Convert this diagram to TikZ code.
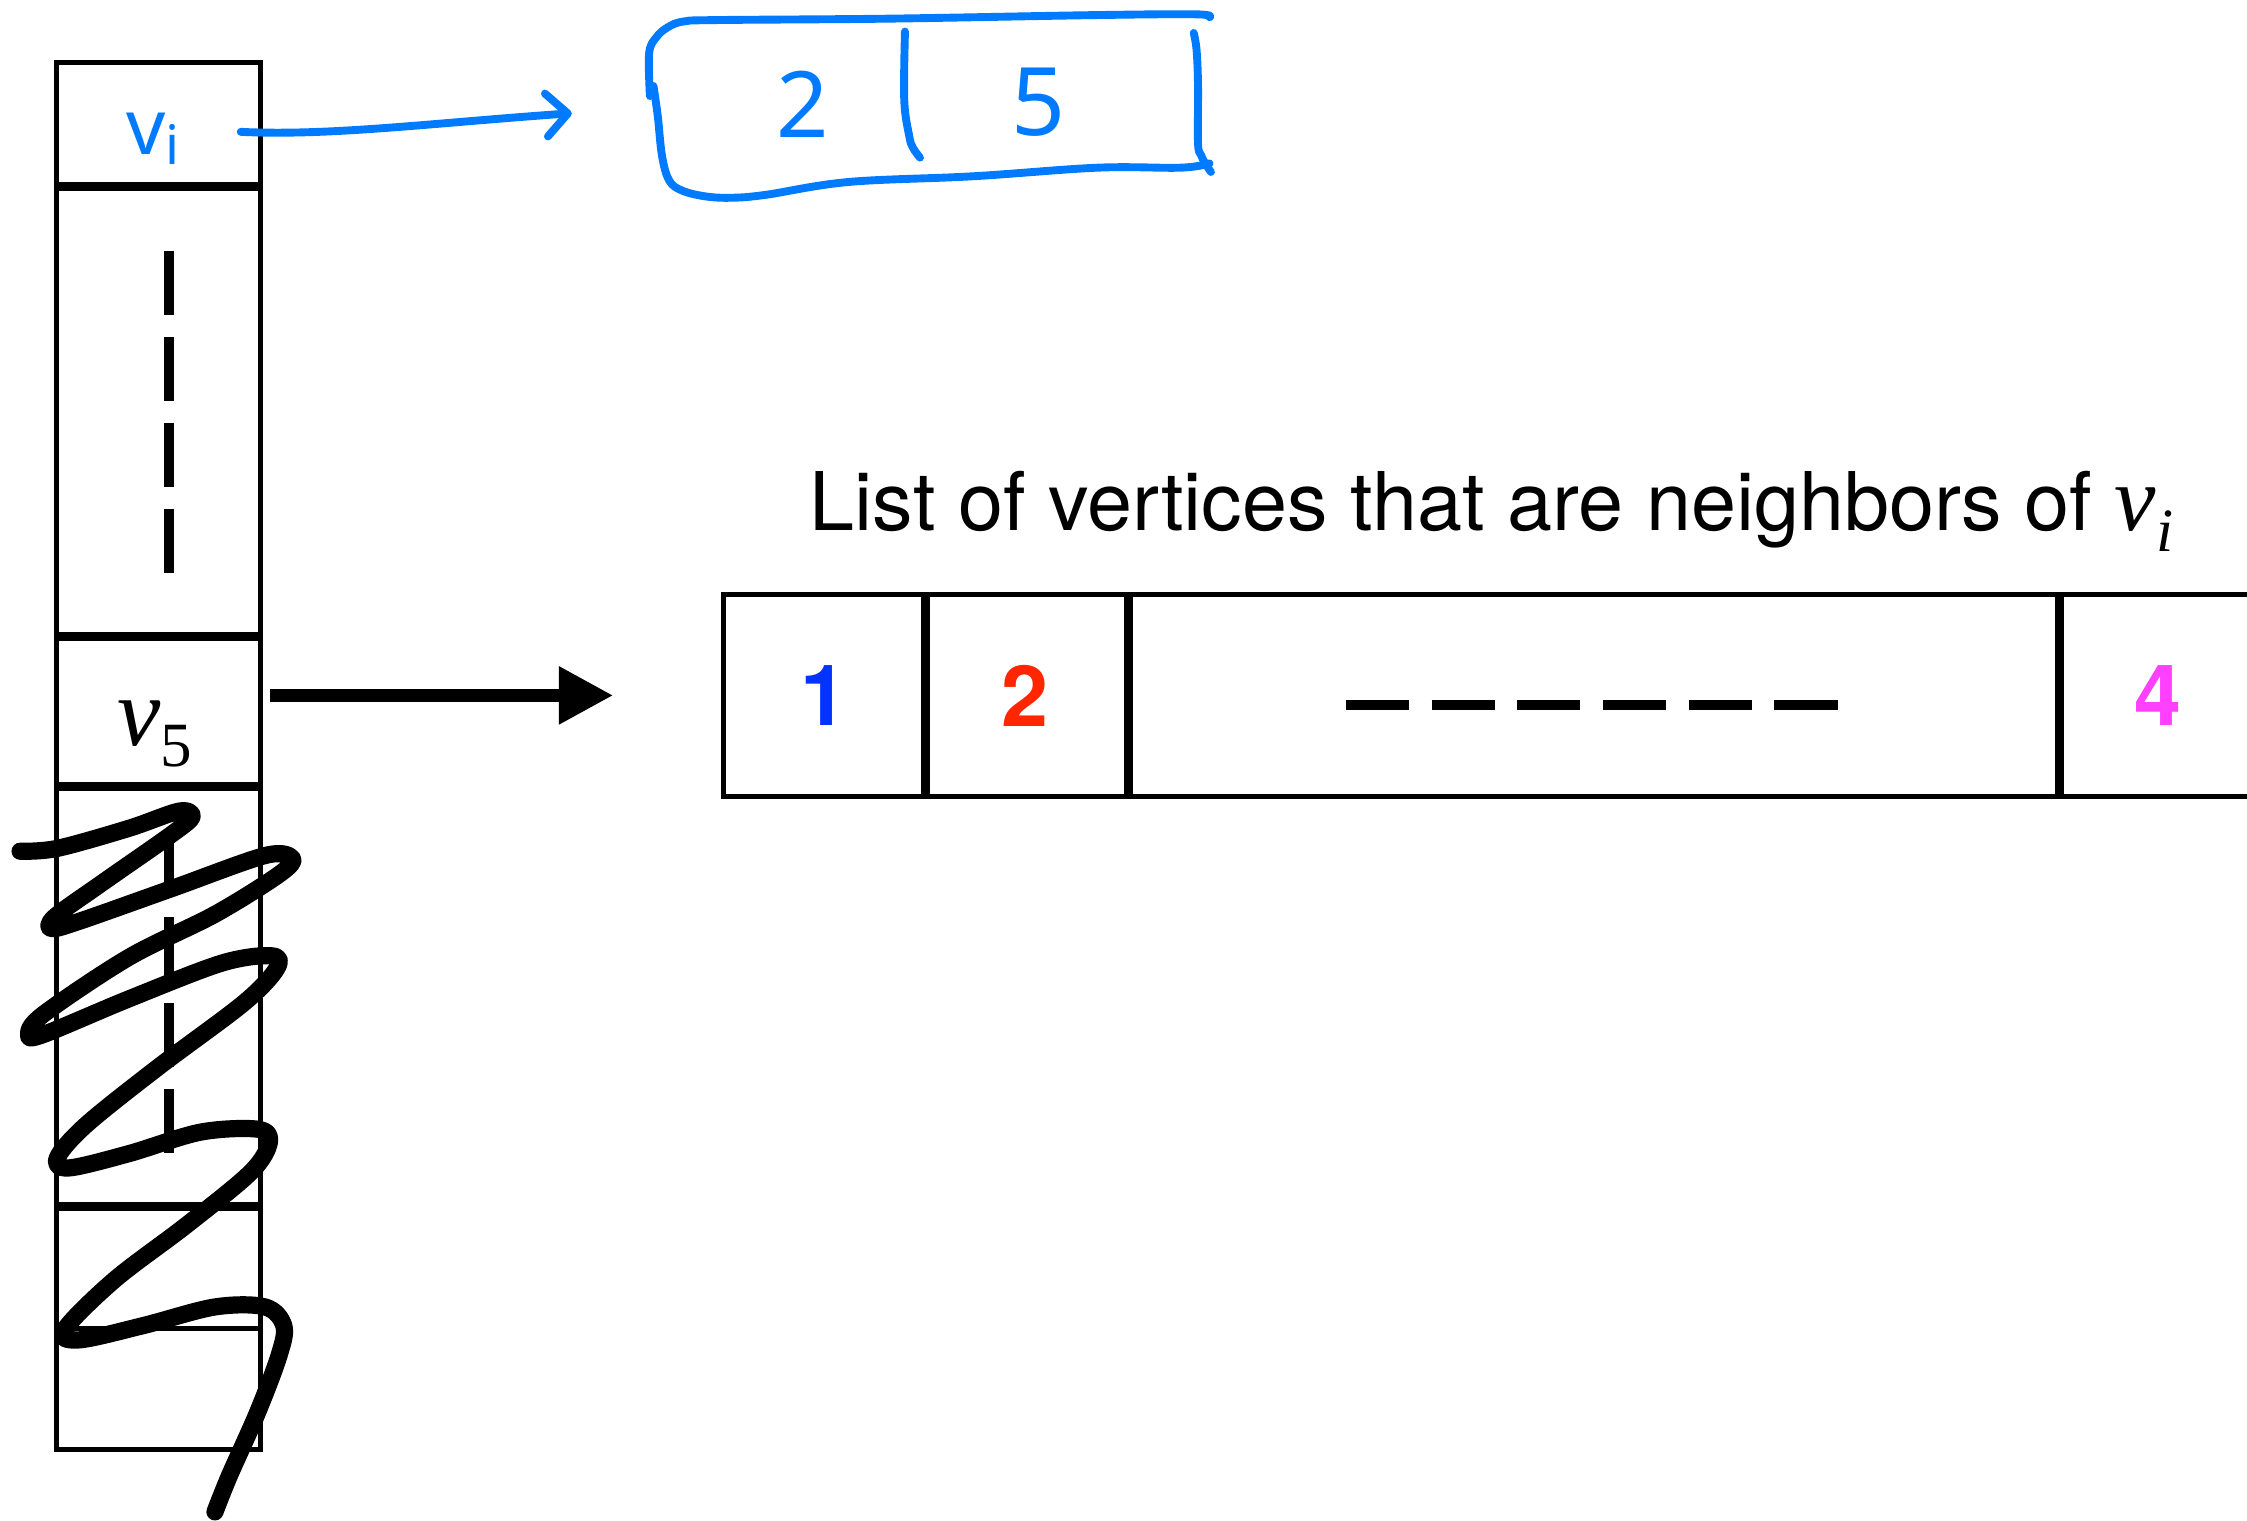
\documentclass[tikz,border=0pt]{standalone}
\usepackage{fontspec}
\setmainfont{TeX Gyre Heros}
\newfontfamily\timesfont{Liberation Serif}
\newfontfamily\handfont{Noto Sans}
\usetikzlibrary{arrows.meta}
\definecolor{ink}{RGB}{0,122,255}
\definecolor{listblue}{RGB}{4,51,255}
\definecolor{listred}{RGB}{255,38,0}
\definecolor{listpink}{RGB}{255,64,255}
\newcommand\fsz[1]{\fontsize{#1}{#1}\selectfont}

\begin{document}
\begin{tikzpicture}[x=1pt,y=-1pt,
  cell/.style={draw, line width=3.5pt, minimum width=142pt, inner sep=0pt, anchor=north west},
  sep/.style={line width=5.6pt},
  lcell/.style={draw, line width=3.5pt, minimum height=141pt, inner sep=0pt, anchor=north west, font=\bfseries\fsz{59}},
  vdots/.style={line width=7pt, dash pattern=on 44.5pt off 15.5pt},
  hdots/.style={line width=7pt, dash pattern=on 44pt off 15.8pt},
  scribble/.style={line width=12pt, line cap=round, line join=round},
  hand/.style={draw=ink, line width=5.5pt, line cap=round, line join=round},
  handtext/.style={text=ink, inner sep=0pt},
  bigarrow/.style={line width=9.3pt, -{Triangle[length=38pt,width=38pt]}},
]
\clip (0,0) rectangle (1568,1061);

% vertex array
\node[cell, minimum height=85pt]  (c1) at (38,42)  {};
\node[cell, minimum height=314pt] (c2) at (38,127) {};
\node[cell, minimum height=105pt] (c3) at (38,441) {};
\node[cell, minimum height=293pt] (c4) at (38,546) {};
\node[cell, minimum height=86pt]  (c5) at (38,839) {};
\node[cell, minimum height=85pt]  (c6) at (38,925) {};
\foreach \c in {c1,c2,c3,c4}
  \draw[sep] (\c.south west) -- (\c.south east);

\draw[vdots] ([shift={(7pt,-48pt)}]c2.north) -- ([shift={(7pt,42pt)}]c2.south);
\draw[vdots] ([shift={(7pt,-34pt)}]c4.north) -- ([shift={(7pt,34pt)}]c4.south);

\node[inner sep=0pt, anchor=base] (v5) at (108,520)
  {{\timesfont\itshape\fsz{68}v}\raisebox{-15pt}{\timesfont\fsz{44}5}};

% handwritten entry in the first slot
\node[handtext, anchor=base, font=\handfont\fsz{54}] (vihand) at (107,108)
  {v\raisebox{-7pt}{\fsz{38}i}};

% neighbour list of v_i
\node[anchor=base west, inner sep=0pt, font=\fsz{56.5}] (head) at (565,370)
  {List of vertices that are neighbors of {\timesfont\itshape\fsz{65}v}\raisebox{-15pt}{\timesfont\itshape\fsz{43}i}};

\node[lcell, minimum width=140pt] (L1) at (503,413)  {\color{listblue}1};
\node[lcell, minimum width=141pt] (L2) at (643,413)  {\color{listred}2};
\node[lcell, minimum width=650pt] (L3) at (784,413)  {};
\node[lcell, minimum width=140pt] (L4) at (1434,413) {\color{listpink}4};
\foreach \c in {L1,L2,L3}
  \draw[sep] (\c.north east) -- (\c.south east);
\draw[hdots] ([shift={(-171.5pt,-6.5pt)}]L3.center) -- ([shift={(171.5pt,-6.5pt)}]L3.center);

\draw[bigarrow] ([xshift=5pt]c3.east |- L1.west) -- ([xshift=-75pt]L1.west);

% hand-drawn list of the first vertex
\node[handtext, font=\handfont\fsz{64}] (two)  at (560,73) {2};
\node[handtext, font=\handfont\fsz{66}] (five) at (725,71) {5};
\draw[hand] plot[smooth, tension=0.6] coordinates {(453.5,67) (453,37) (458,26) (466,19) (477,15) (500,14) (621,13) (766,10.5) (835,10) (844,12)};
\draw[hand] plot[smooth, tension=0.6] coordinates {(456,60) (459,81) (462,109) (467,126) (476,133) (492,137) (510,138) (534,136) (592,127) (679,123) (766,117) (824,117) (844,114)};
\draw[hand] plot[smooth, tension=0.6] coordinates {(833,23) (835,35) (836,60) (836,100) (838,108) (841,114) (845,120)};
\draw[hand] plot[smooth, tension=0.6] coordinates {(631.5,22) (631,70) (634.5,95) (637,103) (642,110)};

\coordinate (viout) at (168,92);
\coordinate (vitip) at (399,79);
\draw[hand, -{Straight Barb[length=15pt,width=30pt,round]}] (viout) .. controls (230,95) and (300,86) .. (vitip);

% scribble over the lower part of the array
\draw[scribble] plot[smooth, tension=0.55] coordinates {
 (14,594) (40,592) (90,578) (125,566) (134,570) (120,582) (70,617) (38,640) (36,648)
 (55,643) (120,620) (185,597) (204,599) (195,610) (150,638) (90,668) (30,708) (20,722)
 (30,722) (90,697) (155,672) (190,667) (193,676) (170,700) (110,745) (60,785) (40,808)
 (48,815) (90,805) (140,790) (180,788) (188,797) (175,818) (130,855) (80,893) (45,928)
 (55,935) (100,925) (150,912) (185,912) (198,925) (195,945) (180,985) (160,1030) (150,1055)};
\end{tikzpicture}
\end{document}
